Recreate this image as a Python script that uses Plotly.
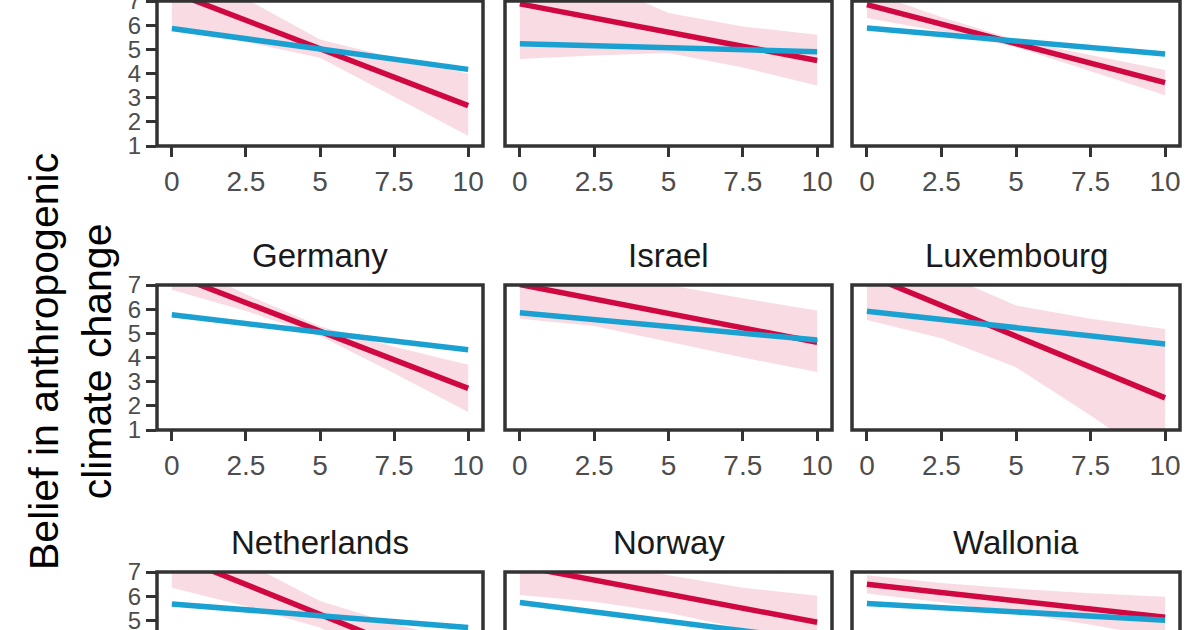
import plotly.graph_objects as go

# ---------------- data ----------------
panel_titles = ["", "", "", "Germany", "Israel", "Luxembourg",
                "Netherlands", "Norway", "Wallonia"]

line_x = [0, 10]
red_line = [
    [7.38, 2.67], [6.88, 4.54], [6.85, 3.62],
    [7.45, 2.72], [7.02, 4.63], [7.43, 2.33],
    [7.72, 2.77], [7.25, 4.92], [6.49, 5.13],
]
blue_line = [
    [5.86, 4.17], [5.23, 4.90], [5.88, 4.81],
    [5.77, 4.32], [5.85, 4.72], [5.91, 4.56],
    [5.68, 4.70], [5.74, 4.18], [5.70, 5.00],
]

ribbon_x = [0, 2.5, 5, 7.5, 10]
ribbon_lower = [
    [5.98, 5.30, 4.65, 3.05, 1.42],
    [4.60, 4.75, 4.85, 4.25, 3.50],
    [6.30, 5.74, 5.09, 4.11, 3.10],
    [6.80, 5.92, 4.89, 3.35, 1.75],
    [5.60, 5.30, 4.64, 4.00, 3.40],
    [5.55, 4.80, 3.60, 1.60, -0.50],
    [6.35, 5.58, 4.70, 3.16, 1.47],
    [6.05, 5.77, 5.31, 4.65, 3.82],
    [6.11, 5.75, 5.31, 4.82, 4.28],
]
ribbon_upper = [
    [8.78, 7.10, 5.41, 4.65, 4.00],
    [9.20, 7.85, 6.50, 5.95, 5.60],
    [7.40, 6.34, 5.39, 4.75, 4.14],
    [8.10, 6.62, 5.29, 4.45, 3.70],
    [8.45, 7.55, 7.00, 6.45, 5.95],
    [9.30, 7.50, 6.15, 5.60, 5.18],
    [9.09, 7.38, 5.80, 4.86, 4.07],
    [8.45, 7.57, 6.87, 6.35, 6.02],
    [6.87, 6.55, 6.31, 6.12, 5.98],
]

x_tickvals = [0, 2.5, 5, 7.5, 10]
x_ticktext = ["0", "2.5", "5", "7.5", "10"]
y_tickvals = [1, 2, 3, 4, 5, 6, 7]
y_title = "Belief in anthropogenic<br>climate change"

# ---------------- style / layout ----------------
W, H = 1200, 630
RED = "#CF0842"
BLUE = "#1BA0D2"
RIB = "rgba(214,20,70,0.15)"
BORDER = "#333333"
TICKC = "#4D4D4D"
FONT = "Liberation Sans, Arial, sans-serif"

col_px = [(157, 483), (505, 832), (852, 1180)]
row_px = [(1, 146), (285, 430), (572, 717)]
row_range = [[1, 7], [1, 7], [7 - 58 / (145 / 6), 7]]

fig = go.Figure()
layout = dict(
    width=W, height=H, margin=dict(l=0, r=0, t=0, b=0, autoexpand=False),
    paper_bgcolor="white", plot_bgcolor="white", showlegend=False,
    font=dict(family=FONT),
)
shapes = []
annotations = []

for i in range(9):
    r, c = divmod(i, 3)
    xa = "x" if i == 0 else f"x{i+1}"
    ya = "y" if i == 0 else f"y{i+1}"
    xk = "xaxis" if i == 0 else f"xaxis{i+1}"
    yk = "yaxis" if i == 0 else f"yaxis{i+1}"

    # ribbon
    fig.add_trace(go.Scatter(
        x=ribbon_x + ribbon_x[::-1],
        y=ribbon_upper[i] + ribbon_lower[i][::-1],
        fill="toself", fillcolor=RIB, line=dict(width=0),
        mode="lines", hoverinfo="skip", xaxis=xa, yaxis=ya))
    fig.add_trace(go.Scatter(x=line_x, y=red_line[i], mode="lines",
                             line=dict(color=RED, width=5.5), xaxis=xa, yaxis=ya))
    fig.add_trace(go.Scatter(x=line_x, y=blue_line[i], mode="lines",
                             line=dict(color=BLUE, width=5.5), xaxis=xa, yaxis=ya))

    x0p, x1p = col_px[c]
    t_px, b_px = row_px[r]
    ydom_top = 1 - t_px / H
    ydom_bot = max(0.0, 1 - b_px / H)
    bottom_visible = b_px <= H

    layout[xk] = dict(
        domain=[x0p / W, x1p / W], range=[-0.5, 10.5], anchor=ya,
        tickmode="array", tickvals=x_tickvals, ticktext=x_ticktext,
        ticks="outside" if bottom_visible else "", ticklen=10, tickwidth=3,
        tickcolor=BORDER, showticklabels=bottom_visible,
        tickfont=dict(size=28, color=TICKC, family=FONT), automargin=False,
        showgrid=False, zeroline=False, showline=False, fixedrange=True)
    layout[yk] = dict(
        domain=[ydom_bot, ydom_top], range=row_range[r], anchor=xa,
        tickmode="array", tickvals=y_tickvals,
        ticks="outside" if c == 0 else "", ticklen=10, tickwidth=3,
        tickcolor=BORDER, showticklabels=(c == 0), automargin=False,
        ticklabeloverflow="allow",
        tickfont=dict(size=24, color=TICKC, family=FONT),
        showgrid=False, zeroline=False, showline=False, fixedrange=True)

    shapes.append(dict(type="rect", xref="paper", yref="paper",
                       x0=x0p / W, x1=x1p / W,
                       y0=1 - b_px / H, y1=1 - t_px / H,
                       line=dict(color=BORDER, width=3.5), layer="above"))

    if panel_titles[i]:
        annotations.append(dict(
            text=panel_titles[i], xref="paper", yref="paper",
            x=(x0p + x1p) / 2 / W, y=1 - (t_px - 30) / H,
            showarrow=False, xanchor="center", yanchor="middle",
            font=dict(size=33, color="#1A1A1A", family=FONT)))

annotations.append(dict(
    text=y_title, xref="paper", yref="paper", x=70 / W, y=1 - 362 / H,
    showarrow=False, textangle=-90, xanchor="center", yanchor="middle",
    font=dict(size=41, color="black", family=FONT)))

layout["shapes"] = shapes
layout["annotations"] = annotations
fig.update_layout(**layout)
fig.write_html("out.html")
